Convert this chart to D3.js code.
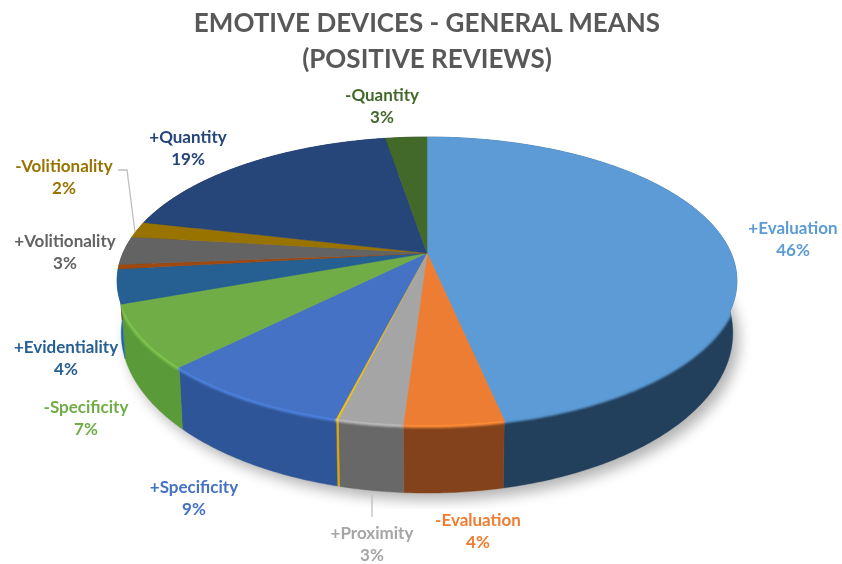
<!DOCTYPE html>
<html><head><meta charset="utf-8">
<script src="https://cdn.jsdelivr.net/npm/d3@7"></script>
<style>html,body{margin:0;padding:0;background:#fff}svg{display:block}text{font-family:Lato,"Open Sans",sans-serif;font-weight:700}</style>
</head><body><svg id="c" width="842" height="564"></svg>
<script>
const categories = ["+Evaluation","-Evaluation","+Proximity","-Proximity","+Specificity","-Specificity","+Evidentiality","-Evidentiality","+Volitionality","-Volitionality","+Quantity","-Quantity"];
const shares = [46.7,4.3,2.8,0.1,8.5,7.0,3.8,0.5,3.2,1.8,18.7,2.6];
const percentLabels = ["46%","4%","3%","","9%","7%","4%","","3%","2%","19%","3%"];
const topColors = ["#5B9BD5","#ED7D31","#A5A5A5","#FFC000","#4472C4","#70AD47","#255E91","#9E480E","#636363","#997300","#264478","#43682B"];
const wallColors = ["#223F5B","#84431A","#686868","#E0A800","#2F5597","#5A9A38","#1F66A8","#7A3A0C","#4A4A4A","#6E5300","#1B3157","#304B1F"];
const titleLines = ["EMOTIVE DEVICES - GENERAL MEANS","(POSITIVE REVIEWS)"];

// label layout: [centre x, first-line centre y]
const labelLayout = {"+Evaluation":[793,228],"-Evaluation":[478,520],"+Proximity":[372,533],"+Specificity":[194,487],"-Specificity":[86,407],"+Evidentiality":[66,347],"+Volitionality":[65,241],"-Volitionality":[64,166],"+Quantity":[188,137],"-Quantity":[382,95]};
const labelColors = {"+Proximity":"#A5A5A5"};

const svg = d3.select("#c");
const defs = svg.append("defs");
const blur = (id,s)=>defs.append("filter").attr("id",id).attr("x","-20%").attr("y","-20%").attr("width","140%").attr("height","140%").append("feGaussianBlur").attr("stdDeviation",s);
blur("soft",0.5); blur("shadow",7); blur("bevel",1.3); blur("edge",0.6);

// perspective disc: angle -> screen point
const CX = 427, P = -0.194;
const topPlane = {y:253,K:138.5,A:304};
const basePlane = {y:302,K:154,A:300};
const project = (plane,a)=>{
  const w = -Math.cos(a), d = 1 + P*w;
  return [CX + plane.A*Math.sin(a)/d, plane.y + plane.K*w/d];
};
const rim = (plane,a0,a1)=>{
  const n = Math.max(2,Math.ceil((a1-a0)/0.01));
  return d3.range(n+1).map(i=>project(plane,a0+(a1-a0)*i/n));
};
const line = d3.line();
const pie = d3.pie().sort(null).value(d=>d);
const arcs = pie(shares);

const clip = defs.append("clipPath").attr("id","body");
clip.append("path").attr("d",line(rim(topPlane,0,2*Math.PI))+"Z");
arcs.forEach(s=>{
  clip.append("path").attr("d",line(rim(topPlane,s.startAngle,s.endAngle).concat(rim(basePlane,s.startAngle,s.endAngle).reverse()))+"Z");
});

const root = svg.append("g").attr("filter","url(#edge)");

// cast shadow
root.append("path")
  .attr("d",line(rim(basePlane,0,2*Math.PI))+"Z")
  .attr("transform","translate(6,7)")
  .attr("fill","#000").attr("opacity",0.3).attr("filter","url(#shadow)");

// walls
const walls = root.append("g");
arcs.forEach((s,i)=>{
  const t = rim(topPlane,s.startAngle,s.endAngle), b = rim(basePlane,s.startAngle,s.endAngle).reverse();
  walls.append("path").attr("d",line(t.concat(b))+"Z").attr("fill",wallColors[i]).attr("stroke",wallColors[i]).attr("stroke-width",0.4);
});

// bevel at the rim, kept inside the body of the disc
const bevels = root.append("g").attr("clip-path","url(#body)").append("g").attr("filter","url(#bevel)");
arcs.forEach((s,i)=>{
  bevels.append("path").attr("d",line(rim(topPlane,s.startAngle,s.endAngle)))
    .attr("fill","none").attr("stroke",d3.color(topColors[i]).brighter(i===0?0:0.35)).attr("stroke-width",6);
});

// top faces
const tops = root.append("g");
arcs.forEach((s,i)=>{
  const pts = [[CX,topPlane.y]].concat(rim(topPlane,s.startAngle,s.endAngle));
  tops.append("path").attr("d",line(pts)+"Z").attr("fill",topColors[i]).attr("stroke",topColors[i]).attr("stroke-width",0.5);
});

const fg = svg.append("g").attr("filter","url(#soft)");

// leader lines
const leaders = [[[118,170],[127,170],[135,232]],[[372,495],[372,517]]];
leaders.forEach(l=>fg.append("path").attr("d",line(l)).attr("fill","none").attr("stroke","#BFBFBF").attr("stroke-width",1.3));

// title
fg.selectAll("text.title").data(titleLines).join("text").attr("class","title")
  .attr("x",427).attr("y",(d,i)=>32+i*36).attr("text-anchor","middle")
  .attr("font-size",26).attr("fill","#595959").text(d=>d);

// labels
categories.forEach((c,i)=>{
  if(!percentLabels[i]) return;
  const [x,y] = labelLayout[c];
  const col = labelColors[c]||topColors[i];
  const g = fg.append("g").attr("fill",col).attr("text-anchor","middle").attr("font-size",17);
  g.append("text").attr("x",x).attr("y",y).attr("dy","0.35em").text(c);
  g.append("text").attr("x",x).attr("y",y+22).attr("dy","0.35em").text(percentLabels[i]);
});
</script></body></html>
